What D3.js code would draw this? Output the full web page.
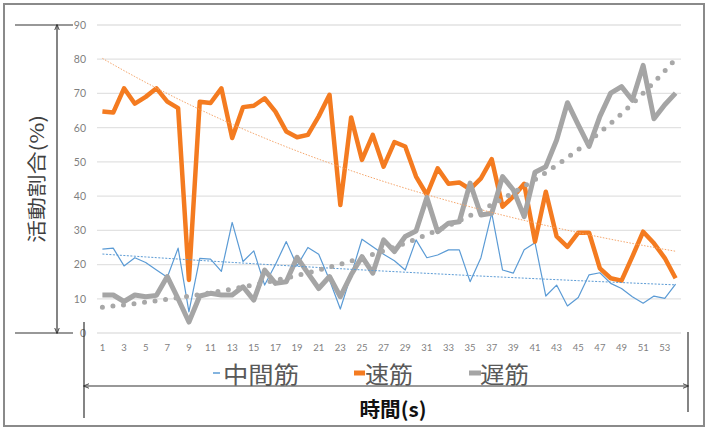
<!DOCTYPE html>
<html>
<head>
<meta charset="utf-8">
<script src="https://cdnjs.cloudflare.com/ajax/libs/d3/7.8.5/d3.min.js"></script>
<style>
  body { margin: 0; background: #fff; }
  svg { display: block; }
</style>
</head>
<body>
<div id="vis"></div>
<script>
// time steps (s) on the category axis
var times = [1,2,3,4,5,6,7,8,9,10,11,12,13,14,15,16,17,18,19,20,21,22,23,24,25,26,27,
             28,29,30,31,32,33,34,35,36,37,38,39,40,41,42,43,44,45,46,47,48,49,50,51,52,53,54];

// activity ratio (%)
var middleVals = [24.5,24.8,19.6,22,20.6,18.4,16.3,24.8,6.2,21.8,21.6,18,32.3,20.9,24,14,20,26.7,
                  19.6,25,23,15.5,7,17,27.4,25.2,23,21.1,18.4,27.2,22,22.8,24.3,24.3,15,22,35,
                  18.4,17.5,24.3,26.4,10.8,14,7.9,10.4,17,17.6,14.5,13,10.6,8.7,10.8,10.1,14.3];
var fastVals = [64.7,64.4,71.5,67,69,71.5,67.6,65.7,15.5,67.6,67.2,71.5,57,66,66.4,68.6,64.7,58.9,
                57.2,57.9,63.3,69.6,37.4,63,50.6,57.9,48.6,55.8,54.5,45.7,40.4,48.1,43.6,44,42,
                45.2,50.8,36.9,39.9,43.6,26.7,41.3,28.2,25.2,29.3,29.3,18.9,16,15.3,22.3,29.6,26.2,21.9,16];
var slowVals = [11.1,11.1,9.2,11.1,10.6,11,16.5,10,3.2,10.8,11.6,11.1,11.1,13.5,9.6,18.4,14.5,15,
                22.1,17.5,13,16.5,10.6,17,22.3,17.5,27.2,23.8,28.2,29.8,39.6,29.6,32.1,32.5,43.8,
                34.5,35,45.7,41.8,34,47,48.6,56.4,67.3,60.8,54.5,63.3,70.1,72,68,78.2,62.6,66.7,70.1];

var yTicks = [0,10,20,30,40,50,60,70,80,90];
var seriesNames = ["中間筋", "速筋", "遅筋"];
var yTitle = "活動割合(%)";
var xTitle = "時間(s)";

var width = 708, height = 429;
var plot = {left: 97, right: 681, top: 25, bottom: 333};

var svg = d3.select("#vis").append("svg")
  .attr("width", width)
  .attr("height", height);

// arrow heads for the hand drawn dimension lines
var defs = svg.append("defs");
["start", "end"].forEach(function(k){
  defs.append("marker")
    .attr("id", "arrow-" + k)
    .attr("viewBox", "0 0 10 10")
    .attr("refX", k == "end" ? 9 : 1).attr("refY", 5)
    .attr("markerWidth", 5).attr("markerHeight", 5)
    .attr("orient", "auto")
    .append("path")
      .attr("d", k == "end" ? "M0,1 L10,5 L0,9" : "M10,1 L0,5 L10,9")
      .attr("fill", "none")
      .attr("stroke", "#333")
      .attr("stroke-width", 1.5);
});

// outer frame
svg.append("rect")
  .attr("x", 4).attr("y", 4)
  .attr("width", 700).attr("height", 422)
  .attr("fill", "none")
  .attr("stroke", "#8a8a8a")
  .attr("stroke-width", 2);

var x = d3.scaleBand()
  .domain(times)
  .range([plot.left, plot.right]);

var y = d3.scaleLinear()
  .domain([0, 90])
  .range([plot.bottom, plot.top]);

function cx(t){ return x(t) + x.bandwidth() / 2; }

// gridlines
svg.append("g").selectAll("line")
  .data(yTicks)
  .enter().append("line")
    .attr("x1", plot.left).attr("x2", plot.right)
    .attr("y1", function(d){ return y(d); })
    .attr("y2", function(d){ return y(d); })
    .attr("stroke", "#e2e2e2")
    .attr("stroke-width", 1.3);

var yAxis = d3.axisLeft(y).tickValues(yTicks).tickSize(0).tickPadding(11);
var yg = svg.append("g")
  .attr("transform", "translate(" + plot.left + ",0)")
  .call(yAxis);
yg.select(".domain").remove();
yg.selectAll("text")
  .attr("fill", "#7f7f7f")
  .style("font-family", "Lato, 'Liberation Sans', sans-serif")
  .style("font-size", "10.5px");

var xAxis = d3.axisBottom(x)
  .tickValues(times.filter(function(t){ return t % 2 == 1; }))
  .tickSize(0).tickPadding(11);
var xg = svg.append("g")
  .attr("transform", "translate(0," + plot.bottom + ")")
  .call(xAxis);
xg.select(".domain").remove();
xg.selectAll("text")
  .attr("fill", "#7f7f7f")
  .style("font-family", "Lato, 'Liberation Sans', sans-serif")
  .style("font-size", "9.5px");

// series
var series = [
  {name: seriesNames[0], vals: middleVals, color: "#5b9bd5", w: 1.2},
  {name: seriesNames[1], vals: fastVals,   color: "#f47b20", w: 4.5},
  {name: seriesNames[2], vals: slowVals,   color: "#a5a5a5", w: 5}
];

var line = d3.line()
  .x(function(d){ return cx(d.t); })
  .y(function(d){ return y(d.v); });

series.forEach(function(s){
  var pts = s.vals.map(function(v, i){ return {t: times[i], v: v}; });
  svg.append("path")
    .datum(pts)
    .attr("d", line)
    .attr("fill", "none")
    .attr("stroke", s.color)
    .attr("stroke-width", s.w)
    .attr("stroke-linejoin", "round");
});

// exponential trendlines (least squares on log values, like the spreadsheet does)
function expFit(vals){
  var n = vals.length, sx = 0, sy = 0, sxx = 0, sxy = 0;
  vals.forEach(function(v, i){
    var t = times[i], l = Math.log(v);
    sx += t; sy += l; sxx += t * t; sxy += t * l;
  });
  var b = (n * sxy - sx * sy) / (n * sxx - sx * sx);
  var a = Math.exp((sy - b * sx) / n);
  return function(t){ return a * Math.exp(b * t); };
}

var trends = [
  {vals: middleVals, color: "#5b9bd5", w: 1, dash: "2 1.5", cap: "butt"},
  {vals: fastVals,   color: "#f5a66c", w: 1, dash: "1.5 1.5", cap: "butt"},
  {vals: slowVals,   color: "#a8a8a8", w: 5, dash: "0 10.6", cap: "round"}
];

trends.forEach(function(tr){
  var f = expFit(tr.vals);
  var pts = times.map(function(t){ return {t: t, v: f(t)}; });
  svg.append("path")
    .datum(pts)
    .attr("d", line)
    .attr("fill", "none")
    .attr("stroke", tr.color)
    .attr("stroke-width", tr.w)
    .attr("stroke-dasharray", tr.dash)
    .attr("stroke-linecap", tr.cap);
});

// legend
var legendItems = [
  {mx: 213, mw: 7,  tx: 223, tl: 76, color: "#5b9bd5", w: 1.5},
  {mx: 354, mw: 11, tx: 365, tl: 48, color: "#f47b20", w: 5},
  {mx: 469, mw: 12, tx: 480, tl: 49, color: "#a5a5a5", w: 5}
];
var lg = svg.append("g");
legendItems.forEach(function(d, i){
  lg.append("line")
    .attr("x1", d.mx).attr("x2", d.mx + d.mw)
    .attr("y1", 373).attr("y2", 373)
    .attr("stroke", d.color)
    .attr("stroke-width", d.w);
  lg.append("text")
    .attr("x", d.tx).attr("y", 373)
    .attr("dominant-baseline", "central")
    .attr("textLength", d.tl)
    .attr("lengthAdjust", "spacingAndGlyphs")
    .attr("fill", "#595959")
    .style("font-family", "'Noto Sans CJK JP', sans-serif")
    .style("font-size", "23px")
    .text(seriesNames[i]);
});

// axis titles
svg.append("text")
  .attr("transform", "translate(35,179) rotate(-90)")
  .attr("text-anchor", "middle")
  .attr("dominant-baseline", "central")
  .attr("textLength", 128)
  .attr("lengthAdjust", "spacingAndGlyphs")
  .attr("fill", "#404040")
  .style("font-family", "'Noto Sans CJK JP', sans-serif")
  .style("font-size", "19px")
  .text(yTitle);

svg.append("text")
  .attr("x", 393).attr("y", 408)
  .attr("text-anchor", "middle")
  .attr("dominant-baseline", "central")
  .attr("textLength", 67)
  .attr("lengthAdjust", "spacingAndGlyphs")
  .attr("fill", "#111")
  .style("font-family", "'Noto Sans CJK JP', sans-serif")
  .style("font-size", "20px")
  .style("font-weight", "bold")
  .text(xTitle);

// dimension lines drawn over the slide
var ann = svg.append("g")
  .attr("stroke", "#333")
  .attr("stroke-width", 1.2)
  .attr("fill", "none");

ann.append("line").attr("x1", 15).attr("x2", 73).attr("y1", y(90)).attr("y2", y(90));
ann.append("line").attr("x1", 15).attr("x2", 73).attr("y1", y(0)).attr("y2", y(0));
ann.append("line")
  .attr("x1", 57).attr("x2", 57)
  .attr("y1", y(90)).attr("y2", y(0))
  .attr("marker-start", "url(#arrow-start)")
  .attr("marker-end", "url(#arrow-end)");

ann.append("line").attr("x1", 84).attr("x2", 84).attr("y1", 322).attr("y2", 418);
ann.append("line").attr("x1", 688).attr("x2", 688).attr("y1", 332).attr("y2", 412);
ann.append("line")
  .attr("x1", 84).attr("x2", 688)
  .attr("y1", 386).attr("y2", 386)
  .attr("marker-start", "url(#arrow-start)")
  .attr("marker-end", "url(#arrow-end)");
</script>
</body>
</html>
